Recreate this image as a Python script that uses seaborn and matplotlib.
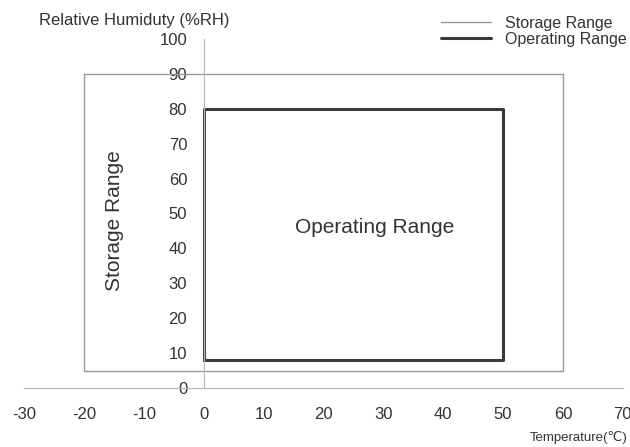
import matplotlib
matplotlib.use('Agg')
import matplotlib.pyplot as plt
import matplotlib.transforms as mtransforms
import seaborn as sns

sns.set_theme(style='white')
plt.rcParams['font.family'] = ['Liberation Sans', 'DejaVu Sans']

# rectangle outlines (temperature in C, humidity in %RH)
storage_temp = [-20, 60, 60, -20, -20]
storage_rh = [5, 5, 90, 90, 5]
operating_temp = [0, 50, 50, 0, 0]
operating_rh = [8, 8, 80, 80, 8]

x_ticks = [-30, -20, -10, 0, 10, 20, 30, 40, 50, 60, 70]
y_ticks = [0, 10, 20, 30, 40, 50, 60, 70, 80, 90, 100]

fig = plt.figure(figsize=(6.3, 4.47), dpi=100)
ax = fig.add_axes([0.0386, 0.132, 0.950, 0.781])

sns.lineplot(x=storage_temp, y=storage_rh, sort=False, estimator=None,
             color='#9a9a9a', linewidth=1.0, label='Storage Range', ax=ax)
sns.lineplot(x=operating_temp, y=operating_rh, sort=False, estimator=None,
             color='#3a3a3a', linewidth=2.2, label='Operating Range', ax=ax)

ax.set_xlim(-30, 70)
ax.set_ylim(0, 100)
ax.set_xticks(x_ticks)
ax.set_yticks(y_ticks)
ax.set_xticklabels([str(v) for v in x_ticks])
ax.set_yticklabels([str(v) for v in y_ticks])

# axes crossing at the origin
ax.spines['left'].set_position(('data', 0))
ax.spines['bottom'].set_position(('data', 0))
ax.spines['top'].set_visible(False)
ax.spines['right'].set_visible(False)
for s in ['left', 'bottom']:
    ax.spines[s].set_color('#b8b8b8')
    ax.spines[s].set_linewidth(0.9)

ax.tick_params(axis='x', direction='inout', length=5, width=0.8, color='#b8b8b8',
               pad=11, labelsize=12, labelcolor='#333333')
ax.tick_params(axis='y', direction='in', length=4, width=0.8, color='#b8b8b8',
               pad=12, labelsize=12, labelcolor='#333333')
ax.grid(False)
ax.patch.set_alpha(0)

# last x label sits against the right edge, keep it whole
last = ax.get_xticklabels()[-1]
last.set_horizontalalignment('right')
last.set_transform(last.get_transform() +
                   mtransforms.ScaledTranslation(6 / 72, 0, fig.dpi_scale_trans))

ax.text(-15, 48, 'Storage Range', rotation=90, ha='center', va='center',
        fontsize=15, color='#333333')
ax.text(28.5, 46, 'Operating Range', ha='center', va='center',
        fontsize=15, color='#333333')

fig.text(39 / 630, 1 - 21 / 447, 'Relative Humiduty (%RH)', ha='left', va='center',
         fontsize=12, color='#333333')
fig.text(628 / 630, 1 - 437 / 447, 'Temperature(℃)', ha='right', va='center',
         fontsize=9.5, color='#333333')

ax.legend(loc='upper left', bbox_to_anchor=(441 / 630, 1 - 16 / 447),
          bbox_transform=fig.transFigure, frameon=False, fontsize=11.5,
          borderaxespad=0, borderpad=0, handlelength=3.1, handletextpad=0.9,
          labelspacing=0.05, labelcolor='#333333')

fig.savefig('out.png', dpi=100)
